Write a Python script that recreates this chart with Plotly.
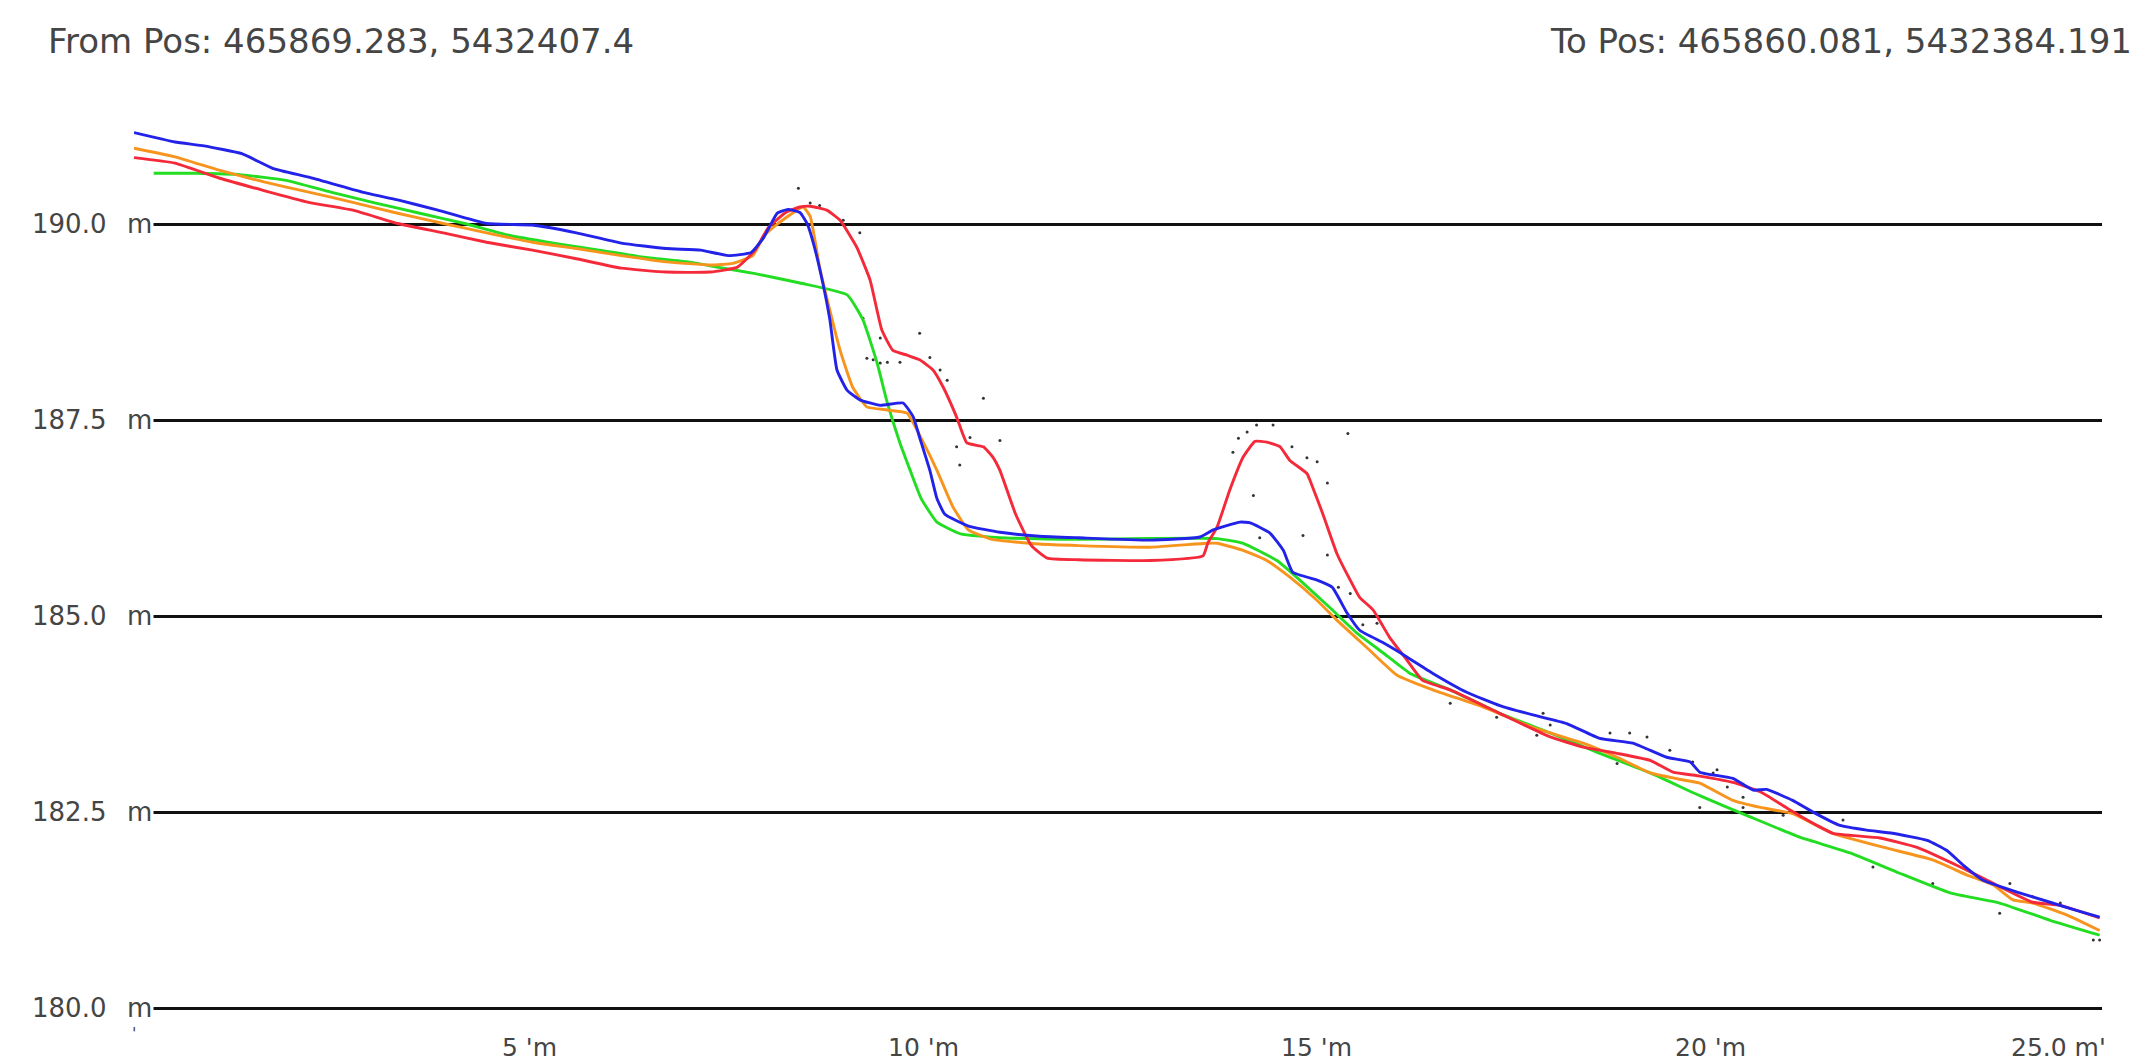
import plotly.graph_objects as go

# ---------------- data ----------------
FROM_TEXT = "From Pos: 465869.283, 5432407.4"
TO_TEXT = "To Pos: 465860.081, 5432384.191"

Y_TICKS = [180.0, 182.5, 185.0, 187.5, 190.0]
X_TICKS = [5, 10, 15, 20]
TOTAL_LENGTH = 25.0

blue_x = [0.0, 0.52, 0.89, 1.37, 1.77, 2.22, 2.9, 3.35, 3.86, 4.48, 5.06, 5.62, 6.19, 6.76, 7.2, 7.55,
          7.84, 8.0, 8.17, 8.31, 8.46, 8.55, 8.63, 8.75, 8.84, 8.93, 9.06, 9.22, 9.48, 9.77, 9.9, 9.98,
          10.11, 10.2, 10.3, 10.6, 11.0, 11.5, 12.0, 12.91, 13.54, 13.71, 14.05, 14.18, 14.43, 14.6,
          14.72, 15.03, 15.22, 15.41, 15.57, 15.87, 16.17, 16.5, 16.93, 17.35, 17.77, 18.2, 18.62,
          19.04, 19.47, 19.77, 19.89, 20.31, 20.57, 20.74, 21.07, 21.33, 21.67, 22.01, 22.34, 22.78,
          23.03, 23.24, 23.49, 23.92, 24.34, 24.76, 24.97]
blue_y = [191.17, 191.05, 191.0, 190.9, 190.71, 190.6, 190.41, 190.31, 190.18, 190.01, 189.99, 189.89,
          189.76, 189.69, 189.67, 189.6, 189.64, 189.83, 190.14, 190.19, 190.15, 190.01, 189.76,
          189.25, 188.78, 188.14, 187.88, 187.76, 187.69, 187.72, 187.54, 187.28, 186.86, 186.5,
          186.3, 186.15, 186.07, 186.02, 186.0, 185.97, 186.01, 186.1, 186.2, 186.19, 186.06, 185.84,
          185.56, 185.46, 185.37, 185.04, 184.82, 184.66, 184.48, 184.27, 184.03, 183.86, 183.74,
          183.63, 183.44, 183.38, 183.2, 183.14, 183.01, 182.93, 182.78, 182.79, 182.65, 182.5,
          182.33, 182.27, 182.23, 182.14, 182.01, 181.82, 181.63, 181.48, 181.35, 181.22, 181.16]

red_x = [0.0, 0.52, 1.08, 1.65, 2.22, 2.78, 3.35, 3.93, 4.48, 5.06, 5.62, 6.19, 6.76, 7.32, 7.66, 7.89,
         8.06, 8.28, 8.46, 8.59, 8.8, 8.97, 9.18, 9.35, 9.5, 9.64, 9.82, 9.98, 10.15, 10.28, 10.45,
         10.58, 10.79, 10.91, 11.0, 11.2, 11.4, 11.6, 12.0, 12.91, 13.58, 13.64, 13.76, 13.92, 14.09,
         14.24, 14.39, 14.56, 14.68, 14.9, 14.94, 15.1, 15.28, 15.45, 15.57, 15.74, 15.95, 16.17,
         16.37, 16.72, 17.35, 17.99, 18.41, 18.84, 19.26, 19.55, 19.89, 20.31, 20.66, 21.0, 21.38,
         21.58, 22.18, 22.65, 23.2, 23.58, 24.12, 24.47, 24.97]
red_y = [190.85, 190.78, 190.59, 190.43, 190.28, 190.18, 190.01, 189.89, 189.77, 189.67, 189.56,
         189.44, 189.39, 189.39, 189.45, 189.67, 189.96, 190.15, 190.22, 190.23, 190.18, 190.05,
         189.71, 189.29, 188.65, 188.39, 188.33, 188.27, 188.14, 187.92, 187.54, 187.21, 187.16,
         187.03, 186.86, 186.3, 185.9, 185.74, 185.72, 185.71, 185.77, 185.93, 186.14, 186.61,
         187.03, 187.23, 187.22, 187.16, 186.99, 186.82, 186.73, 186.31, 185.8, 185.46, 185.24,
         185.08, 184.73, 184.44, 184.18, 184.06, 183.76, 183.46, 183.33, 183.25, 183.16, 183.01,
         182.96, 182.88, 182.76, 182.55, 182.33, 182.23, 182.17, 182.05, 181.8, 181.61, 181.35,
         181.31, 181.15]

orange_x = [0.0, 0.52, 1.08, 1.65, 2.22, 2.78, 3.35, 3.93, 4.48, 5.06, 5.62, 6.19, 6.76, 7.32, 7.61,
            7.86, 8.0, 8.12, 8.29, 8.5, 8.59, 8.71, 8.84, 8.97, 9.13, 9.31, 9.57, 9.82, 10.03, 10.2,
            10.4, 10.6, 10.9, 11.5, 12.0, 12.91, 13.63, 13.76, 14.09, 14.39, 14.68, 15.03, 15.28,
            15.66, 16.04, 16.5, 17.14, 17.77, 18.41, 18.84, 19.26, 19.68, 19.89, 20.31, 20.66, 21.07,
            21.58, 22.27, 22.85, 23.28, 23.62, 23.87, 24.12, 24.55, 24.97]
orange_y = [190.97, 190.86, 190.69, 190.54, 190.41, 190.28, 190.14, 190.01, 189.89, 189.77, 189.69,
            189.6, 189.52, 189.48, 189.5, 189.6, 189.85, 189.96, 190.09, 190.22, 190.1, 189.45,
            188.9, 188.39, 187.92, 187.67, 187.63, 187.59, 187.21, 186.86, 186.4, 186.1, 185.98,
            185.92, 185.9, 185.88, 185.93, 185.93, 185.84, 185.71, 185.5, 185.2, 184.95, 184.6,
            184.25, 184.06, 183.84, 183.58, 183.38, 183.2, 183.0, 182.91, 182.87, 182.65, 182.56,
            182.48, 182.23, 182.04, 181.89, 181.7, 181.57, 181.38, 181.34, 181.19, 180.99]

green_x = [0.25, 0.8, 1.37, 1.93, 2.5, 3.07, 3.63, 4.2, 4.76, 5.33, 5.91, 6.47, 7.04, 7.43, 7.89, 8.46,
           9.06, 9.26, 9.44, 9.57, 9.73, 9.86, 10.0, 10.2, 10.5, 11.0, 12.0, 12.91, 13.76, 14.09,
           14.52, 14.81, 15.19, 15.54, 15.87, 16.21, 16.72, 17.35, 17.99, 18.62, 19.26, 19.89, 20.53,
           21.16, 21.8, 22.43, 23.07, 23.7, 24.34, 24.97]
green_y = [190.65, 190.65, 190.63, 190.56, 190.41, 190.27, 190.14, 190.01, 189.86, 189.76, 189.67,
           189.58, 189.52, 189.45, 189.37, 189.25, 189.1, 188.78, 188.23, 187.72, 187.21, 186.86,
           186.5, 186.2, 186.05, 186.0, 185.98, 185.99, 185.99, 185.93, 185.71, 185.46, 185.11,
           184.78, 184.53, 184.27, 184.06, 183.76, 183.51, 183.25, 183.0, 182.71, 182.44, 182.18,
           181.98, 181.72, 181.47, 181.34, 181.12, 180.93]

dots_x = [8.44, 8.59, 8.71, 9.01, 9.22, 9.98, 9.31, 9.39, 9.48, 9.57, 9.73, 9.48, 10.11, 10.24, 10.33,
          10.79, 10.62, 10.45, 10.49, 11.0, 9.26, 14.26, 14.47, 14.14, 14.03, 13.96, 15.42, 14.71,
          14.9, 15.03, 15.16, 14.22, 14.85, 15.16, 15.3, 15.45, 15.61, 15.79, 14.3, 16.72, 17.31,
          17.9, 17.99, 18.75, 19.0, 19.22, 19.51, 19.8, 20.06, 20.24, 20.44, 19.89, 18.84, 17.82,
          20.11, 20.44, 20.95, 21.71, 23.83, 24.12, 24.47, 23.7, 24.89, 24.97, 22.85, 22.09]
dots_y = [190.46, 190.27, 190.24, 190.05, 189.89, 188.61, 188.29, 188.27, 188.23, 188.24, 188.24,
          188.55, 188.3, 188.14, 188.01, 187.78, 187.28, 187.16, 186.93, 187.24, 188.8, 187.44,
          187.44, 187.35, 187.27, 187.09, 187.33, 187.16, 187.02, 186.97, 186.7, 186.54, 186.03,
          185.78, 185.37, 185.29, 184.89, 184.91, 186.0, 183.89, 183.71, 183.76, 183.61, 183.51,
          183.51, 183.46, 183.29, 183.14, 183.0, 182.82, 182.56, 182.56, 183.12, 183.48, 183.04,
          182.69, 182.46, 182.4, 181.59, 181.42, 181.34, 181.21, 180.87, 180.87, 181.59, 181.8]

# ---------------- figure ----------------
FONT = "DejaVu Sans"
TXT = "#454545"

fig = go.Figure()
fig.add_trace(go.Scatter(x=dots_x, y=dots_y, mode="markers",
                         marker=dict(size=3, color="#333333"), hoverinfo="skip"))
for xs, ys, col in [(green_x, green_y, "#22dd22"),
                    (orange_x, orange_y, "#f7941d"),
                    (red_x, red_y, "#f42a3a"),
                    (blue_x, blue_y, "#2222e8")]:
    fig.add_trace(go.Scatter(x=xs, y=ys, mode="lines",
                             line=dict(color=col, width=2.9, shape="spline", smoothing=0.4)))

ann = []
# y labels
for v in Y_TICKS:
    ann.append(dict(xref="paper", x=0, yref="y", y=v, xanchor="right", yanchor="middle",
                    xshift=-26, text=f"{v:.1f}", showarrow=False,
                    font=dict(family=FONT, size=26, color=TXT)))
    ann.append(dict(xref="paper", x=0, yref="y", y=v, xanchor="left", yanchor="middle",
                    xshift=-9, text="m", showarrow=False, bgcolor="white",
                    font=dict(family=FONT, size=26, color=TXT)))
# x labels (number, tick mark, unit)
for v in X_TICKS:
    ann.append(dict(xref="x", x=v, yref="paper", y=0, xanchor="center", yanchor="middle",
                    xshift=2, yshift=-35, text=f"{v}\u00a0'm", showarrow=False,
                    font=dict(family=FONT, size=25, color=TXT)))
ann.append(dict(xref="x", x=TOTAL_LENGTH, yref="paper", y=0, xanchor="right", yanchor="middle",
                xshift=6, yshift=-35, text=f"{TOTAL_LENGTH:.1f}\u00a0m'", showarrow=False,
                font=dict(family=FONT, size=25, color=TXT)))
ann.append(dict(xref="x", x=0, yref="paper", y=0, xanchor="center", yanchor="top",
                yshift=-10, text="'", showarrow=False,
                font=dict(family=FONT, size=16, color=TXT)))
# header
ann.append(dict(xref="paper", x=0, yref="paper", y=1, xanchor="left", yanchor="middle",
                xshift=-88, yshift=50, text=FROM_TEXT, showarrow=False,
                font=dict(family=FONT, size=34, color=TXT)))
ann.append(dict(xref="paper", x=1, yref="paper", y=1, xanchor="right", yanchor="middle",
                xshift=32, yshift=50, text=TO_TEXT, showarrow=False,
                font=dict(family=FONT, size=34, color=TXT)))

fig.update_layout(
    width=2140, height=1062,
    margin=dict(l=134, r=38, t=91, b=50),
    paper_bgcolor="white", plot_bgcolor="white",
    showlegend=False,
    annotations=ann,
    xaxis=dict(range=[0, TOTAL_LENGTH], showgrid=False, zeroline=False,
               showticklabels=False, ticks="", showline=False),
    yaxis=dict(range=[179.95, 191.7], tickvals=Y_TICKS, showgrid=True,
               gridcolor="#111111", gridwidth=2.5, zeroline=False,
               showticklabels=False, ticks="", showline=False),
)

fig.write_html("out.html", config={"displayModeBar": False},
               post_script="document.body.style.margin='0';")
